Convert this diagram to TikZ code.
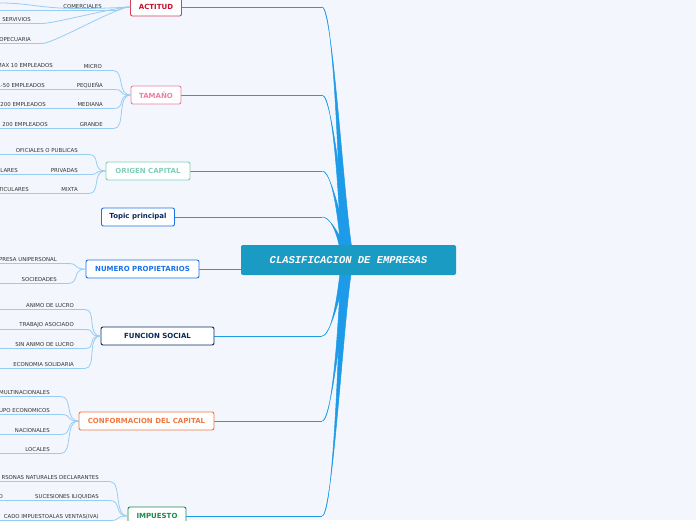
\documentclass[tikz,border=0pt]{standalone}
\usepackage{fontspec}
\setmainfont{DejaVu Sans}
\newfontfamily\centralfont{Liberation Mono}
\definecolor{bgc}{HTML}{F3F6FD}
\definecolor{trunkc}{HTML}{1E9BE8}
\definecolor{leafc}{HTML}{98CDF2}
\definecolor{centc}{HTML}{1A9BC4}
\definecolor{actc}{HTML}{C8102E}
\definecolor{tamc}{HTML}{EC7FA6}
\definecolor{oric}{HTML}{7FCFB8}
\definecolor{topc}{HTML}{1A73E8}
\definecolor{navyc}{HTML}{0B2A5B}
\definecolor{confc}{HTML}{F07840}
\definecolor{impc}{HTML}{1E8A4C}
\begin{document}
\begin{tikzpicture}
	[x=1pt,y=-1pt,
	 branch/.style={draw,rounded corners=2pt,fill=white,line width=0.9pt,inner sep=0pt,minimum height=18pt,font=\bfseries\fontsize{7}{8}\selectfont},
	 leaf/.style={anchor=south east,inner sep=1pt,text=black!80,font=\fontsize{5.4}{6}\selectfont},
	 leafline/.style={leafc,line width=0.8pt},
	 trunk/.style={fill=trunkc,draw=trunkc,line width=0.5pt}]
\fill[bgc] (0,0) rectangle (696,520);
\useasboundingbox (0,0) rectangle (696,520);
% trunks to the central topic
\foreach \ys/\xs in {7/182,95/181,171/190,217/174,269/199,336/214,421/214,516/186}{
  \draw[trunkc,line width=0.8pt] (\xs,\ys) -- (322,\ys);
  \filldraw[trunk] (322,\ys) .. controls (336,\ys) and (341,255) .. (342,260)
     -- (355,260) .. controls (347,255) and (334,\ys) .. (322,\ys) -- cycle;
}
\node[fill=centc,rounded corners=2pt,minimum width=215pt,minimum height=30pt,text=white,
  font=\centralfont\bfseries\itshape\fontsize{10.5}{12}\selectfont] (centre) at (348.5,260) {CLASIFICACION DE EMPRESAS};
% branches
\node[branch,draw=actc!80,text=actc,minimum width=51pt] (actitud) at (156,7) {ACTITUD};
\node[branch,draw=tamc,text=tamc,minimum width=50pt] (tamano) at (156,95) {TAMAÑO};
\node[branch,draw=oric,text=oric,minimum width=84pt] (origen) at (148,171) {ORIGEN CAPITAL};
\node[branch,draw=topc,text=navyc,minimum width=73pt] (topic) at (138,217) {Topic principal};
\node[branch,draw=topc,text=topc,minimum width=113pt] (numero) at (142.5,269) {NUMERO PROPIETARIOS};
\node[branch,draw=navyc,text=navyc,minimum width=113pt] (funcion) at (157.5,336) {FUNCION SOCIAL};
\node[branch,draw=confc,text=confc,minimum width=135pt] (conform) at (146.5,421) {CONFORMACION DEL CAPITAL};
\node[branch,draw=impc,text=impc,minimum width=58pt] (impuesto) at (157,516) {IMPUESTO};
% leaves
\foreach \nm/\rx/\yy/\txt/\br in {
  a1/103/10/COMERCIALES/actitud, a2/32/23/SERVIVIOS/actitud, a3/32/43/OPECUARIA/actitud,
  t1/103/70/MICRO/tamano, t2/104/89/PEQUEÑA/tamano, t3/104/108/MEDIANA/tamano, t4/104/128/GRANDE/tamano,
  o1/79/154/OFICIALES O PUBLICAS/origen, o2/79/174/PRIVADAS/origen, o3/79/193/MIXTA/origen,
  n1/58/263/PRESA UNIPERSONAL/numero, n2/58/283/SOCIEDADES/numero,
  f1/75/309/ANIMO DE LUCRO/funcion, f2/75/329/TRABAJO ASOCIADO/funcion,
  f3/75/348/SIN ANIMO DE LUCRO/funcion, f4/75/368/ECONOMIA SOLIDARIA/funcion,
  c1/51/396/MULTINACIONALES/conform, c2/51/414/UPO ECONOMICOS/conform,
  c3/51/434/NACIONALES/conform, c4/51/453/LOCALES/conform,
  i1/100/481/RSONAS NATURALES DECLARANTES/impuesto, i2/100/500/SUCESIONES ILIQUIDAS/impuesto,
  i3/100/520/CADO IMPUESTOALAS VENTAS(IVA)/impuesto}{
  \node[leaf] (\nm) at (\rx,\yy) {\txt};
  \draw[leafline] (0,\yy+0.5) -- ([xshift=10pt,yshift=-0.5pt]\nm.south east)
     .. controls +(12,0) and +(-14,0) .. (\br.west);
}
% outer leaves
\node[leaf] (t1b) at (54,69) {MAX 10 EMPLEADOS};
\node[leaf] (t2b) at (46,89) {1-50 EMPLEADOS};
\node[leaf] (t3b) at (47,108) {200 EMPLEADOS};
\node[leaf] (t4b) at (49,128) {200 EMPLEADOS};
\node[leaf] (o2b) at (19,174) {ULARES};
\node[leaf] (o3b) at (30,193) {TICULARES};
\node[leaf] (i2b) at (4,500) {O};
\draw[leafline] (0,3) .. controls (40,3) and (38,12) .. (actitud.west);
\end{tikzpicture}
\end{document}
